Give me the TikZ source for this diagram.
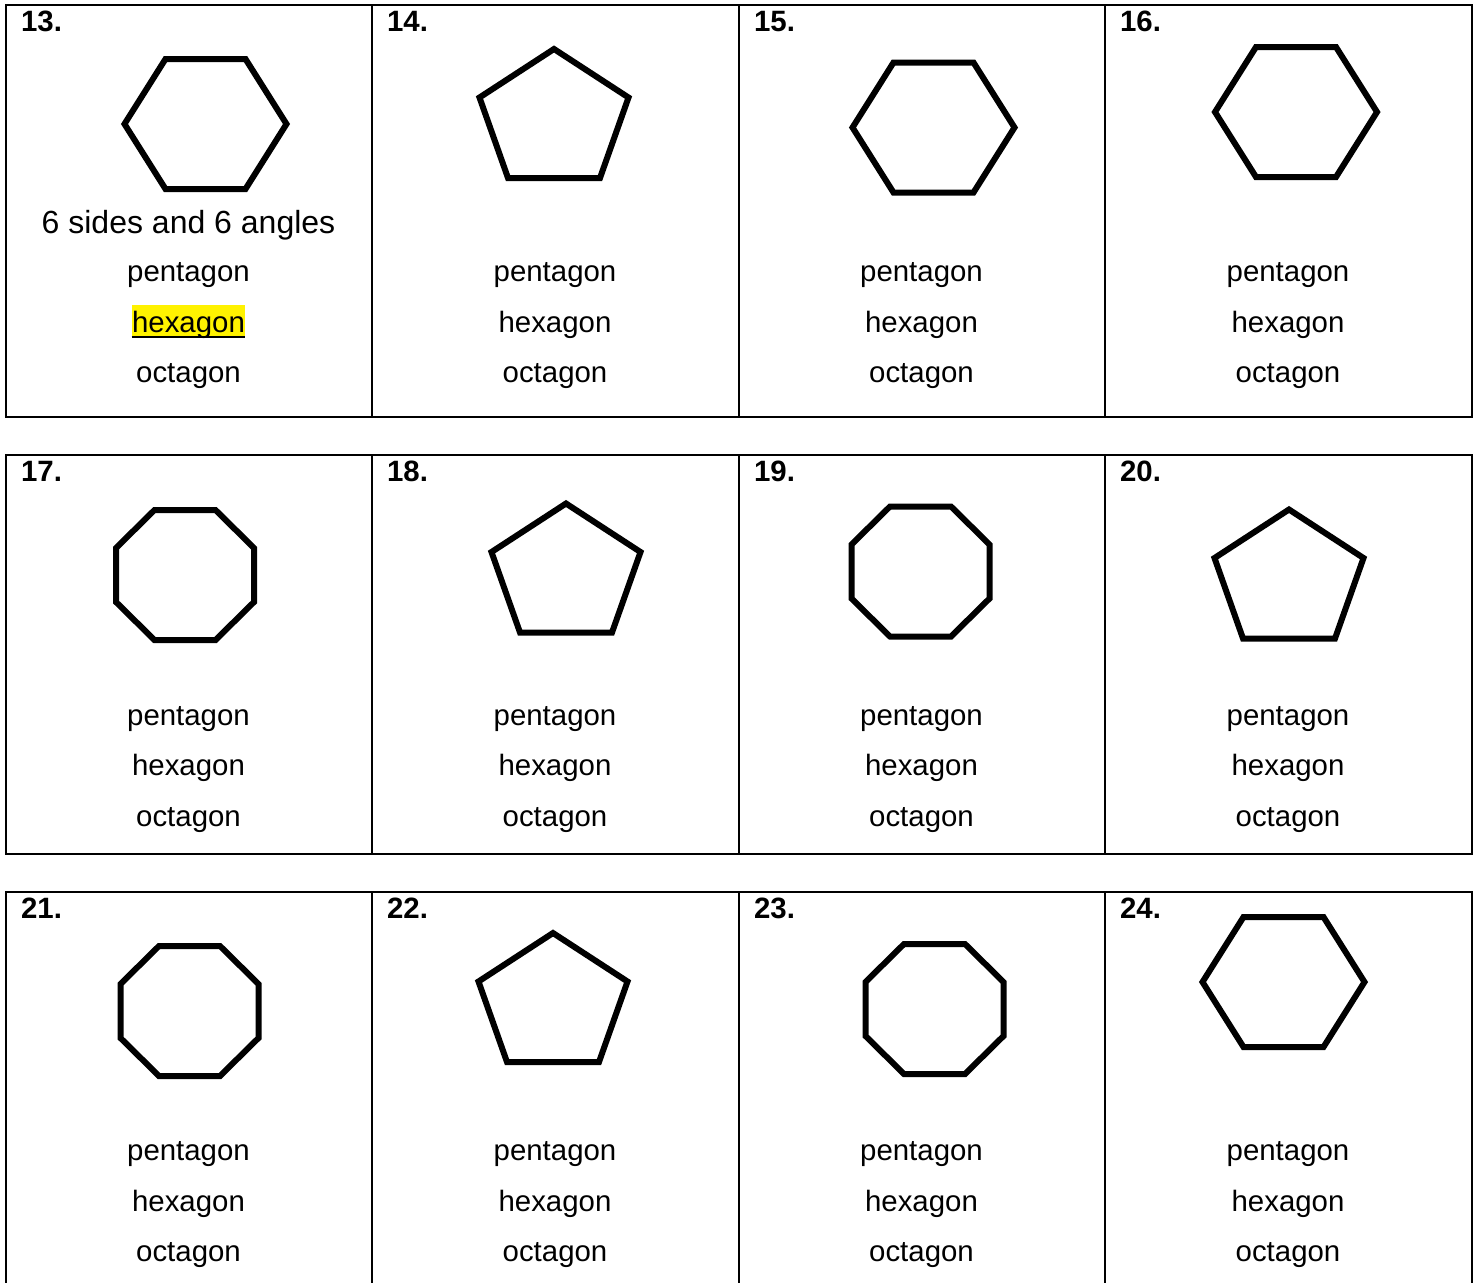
\documentclass[tikz,border=0pt]{standalone}
\usepackage{fontspec}
\setmainfont{Liberation Sans}
\usepackage{tikz}
\usetikzlibrary{calc,backgrounds}
\tikzset{
  cell/.style={draw=black, line width=1pt},
  poly/.style={draw=black, line width=3pt, line join=miter},
  choice/.style={inner sep=0pt, anchor=base, font=\fontsize{14.7}{17}\selectfont},
  qnum/.style={inner sep=0pt, anchor=base west, font=\bfseries\fontsize{14.7}{17}\selectfont},
  hint/.style={inner sep=0pt, anchor=base, font=\fontsize{16}{19}\selectfont},
  hexa/.pic={\draw[poly] (-40,-65) -- (40,-65) -- (81,0) -- (40,65) -- (-40,65) -- (-81,0) -- cycle;},
  penta/.pic={\draw[poly] (0,-64) -- (74.5,-15.5) -- (46,65) -- (-46,65) -- (-74.5,-15.5) -- cycle;},
  octa/.pic={\draw[poly] (-30.5,-65) -- (30.5,-65) -- (69,-27) -- (69,27) -- (30.5,65) -- (-30.5,65) -- (-69,27) -- (-69,-27) -- cycle;}
}

\begin{document}
\begin{tikzpicture}[x=0.5pt,y=-0.5pt]
  \useasboundingbox (0,0) rectangle (1478,1282);
  \clip (0,0) rectangle (1478,1282);
  % three rows of four cells
  \foreach \top/\bot in {5/416.5, 455/854, 892/1300}{
    \draw[cell] (6,\top) rectangle (1471.5,\bot);
    \foreach \x in {372,739,1105}{\draw[cell] (\x,\top) -- (\x,\bot);}
  }
  % shapes
  \foreach \cx/\cy in {205.5/124, 933.5/127.5, 1296/112, 1283.5/982}{\pic at (\cx,\cy) {hexa};}
  \foreach \cx/\cy in {554/113, 566/567.5, 1289/573.5, 553/997}{\pic at (\cx,\cy) {penta};}
  \foreach \cx/\cy in {185/575, 920.5/571.5, 189.5/1011, 934.5/1009}{\pic at (\cx,\cy) {octa};}
  % numbers and answer choices
  \foreach \nbase/\base [count=\r from 0] in {31.7/281.5, 481.7/725, 918.3/1160.5}{
    \foreach \left/\mid [count=\c from 13] in {6/188.5, 372/555, 739/921.5, 1105/1288}{
      \pgfmathtruncatemacro{\q}{\c+4*\r}
      \node[qnum] (num\q) at (\left+14.7,\nbase) {\q.};
      \node[choice] (pen\q) at (\mid,\base) {pentagon};
      \node[choice] (hex\q) at (\mid,\base+50.5) {hexagon};
      \node[choice] (oct\q) at (\mid,\base+101) {octagon};
    }
  }
  \node[hint] (hint13) at (188.5,233.3) {6 sides and 6 angles};
  % marked answer
  \begin{scope}[on background layer]
    \fill[yellow] ($(hex13.base west)+(0,6)$) rectangle ($(hex13.base east)+(0,-27)$);
  \end{scope}
  \draw[line width=1pt] ($(hex13.base west)+(0,4.5)$) -- ($(hex13.base east)+(0,4.5)$);
\end{tikzpicture}
\end{document}
